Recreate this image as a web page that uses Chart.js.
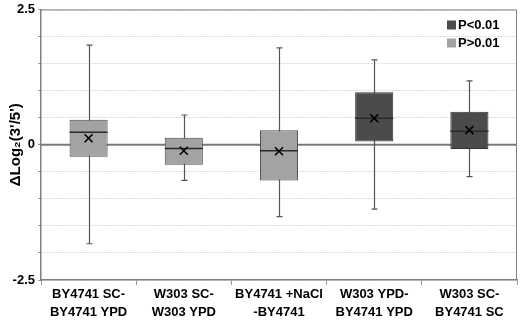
<!DOCTYPE html>
<html>
<head>
<meta charset="utf-8">
<script src="https://cdn.jsdelivr.net/npm/chart.js@4"></script>
<style>
  body { margin: 0; background: #fff; }
  #wrap { width: 520px; height: 323px; position: relative; }
</style>
</head>
<body>
<div id="wrap"><canvas id="chart1"></canvas></div>
<script>
// categories and box plot stats
const labels = [
  ['BY4741 SC-', 'BY4741 YPD'],
  ['W303 SC-', 'W303 YPD'],
  ['BY4741 +NaCl', '-BY4741'],
  ['W303 YPD-', 'BY4741 YPD'],
  ['W303 SC-', 'BY4741 SC']
];
const whiskerHigh = [1.84, 0.55, 1.79, 1.57, 1.18];
const q3 = [0.46, 0.13, 0.27, 0.97, 0.61];
const median = [0.23, -0.07, -0.11, 0.49, 0.25];
const mean = [0.12, -0.11, -0.12, 0.49, 0.27];
const q1 = [-0.22, -0.37, -0.66, 0.06, -0.08];
const whiskerLow = [-1.83, -0.66, -1.33, -1.19, -0.59];
// which boxes are significant (P<0.01)
const significant = [false, false, false, true, true];
const yTickLabels = { '-2.5': '-2.5', '0': '0', '2.5': '2.5' };

const darkFill = '#4b4b4b';
const lightFill = '#a3a3a3';
const fontFamily = '"Liberation Sans", Arial, sans-serif';

const boxes = (sig) => q1.map((v, i) => significant[i] === sig ? [v, q3[i]] : null);

const boxPlugin = {
  id: 'boxExtras',
  beforeDatasetsDraw(chart) {
    const { ctx, chartArea, scales } = chart;
    const x = scales.x, y = scales.y;
    ctx.save();
    // zero line
    ctx.strokeStyle = '#7a7a7a';
    ctx.lineWidth = 2;
    ctx.beginPath();
    ctx.moveTo(chartArea.left, y.getPixelForValue(0));
    ctx.lineTo(chartArea.right, y.getPixelForValue(0));
    ctx.stroke();
    // whiskers
    ctx.strokeStyle = '#555';
    ctx.lineWidth = 1.2;
    for (let i = 0; i < labels.length; i++) {
      const cx = Math.round(x.getPixelForValue(i)) + 0.5;
      const top = y.getPixelForValue(whiskerHigh[i]);
      const bot = y.getPixelForValue(whiskerLow[i]);
      ctx.beginPath();
      ctx.moveTo(cx, top); ctx.lineTo(cx, bot);
      ctx.moveTo(cx - 3, top); ctx.lineTo(cx + 3, top);
      ctx.moveTo(cx - 3, bot); ctx.lineTo(cx + 3, bot);
      ctx.stroke();
    }
    ctx.restore();
  },
  afterDatasetsDraw(chart) {
    const { ctx, chartArea, scales } = chart;
    const x = scales.x, y = scales.y;
    ctx.save();
    for (let i = 0; i < labels.length; i++) {
      const m = chart.getDatasetMeta(significant[i] ? 0 : 1).data[i];
      const half = m.width / 2;
      const cx = x.getPixelForValue(i);
      const my = y.getPixelForValue(median[i]);
      ctx.strokeStyle = '#2a2a2a';
      ctx.lineWidth = 1.5;
      ctx.beginPath();
      ctx.moveTo(cx - half, my); ctx.lineTo(cx + half, my);
      ctx.stroke();
      // mean marker
      const ay = y.getPixelForValue(mean[i]);
      ctx.strokeStyle = '#000';
      ctx.lineWidth = 1.6;
      ctx.beginPath();
      ctx.moveTo(cx - 4, ay - 4); ctx.lineTo(cx + 4, ay + 4);
      ctx.moveTo(cx + 4, ay - 4); ctx.lineTo(cx - 4, ay + 4);
      ctx.stroke();
    }
    // frame top and right
    ctx.strokeStyle = '#808080';
    ctx.lineWidth = 1;
    ctx.beginPath();
    ctx.moveTo(chartArea.left, chartArea.top + 0.5);
    ctx.lineTo(chartArea.right - 0.5, chartArea.top + 0.5);
    ctx.lineTo(chartArea.right - 0.5, chartArea.bottom);
    ctx.stroke();
    // legend
    ctx.font = 'bold 13px ' + fontFamily;
    ctx.textBaseline = 'middle';
    chart.data.datasets.forEach((ds, k) => {
      const ly = 25 + k * 18;
      ctx.fillStyle = ds.backgroundColor;
      ctx.fillRect(447, ly - 4.5, 9, 9);
      ctx.fillStyle = '#000';
      ctx.fillText(ds.label, 458, ly + 0.5);
    });
    ctx.restore();
  }
};

new Chart(document.getElementById('chart1'), {
  type: 'bar',
  data: {
    labels: labels,
    datasets: [
      { label: 'P<0.01', data: boxes(true), backgroundColor: darkFill, borderColor: '#333', borderWidth: 1, borderSkipped: false, grouped: false },
      { label: 'P>0.01', data: boxes(false), backgroundColor: lightFill, borderColor: '#4a4a4a', borderWidth: 1, borderSkipped: false, grouped: false }
    ]
  },
  options: {
    responsive: true,
    maintainAspectRatio: false,
    animation: false,
    categoryPercentage: 0.8,
    barPercentage: 0.5,
    layout: { padding: { top: 0, right: 3, left: 0, bottom: 0 } },
    plugins: {
      legend: { display: false },
      tooltip: { enabled: false }
    },
    scales: {
      x: {
        grid: { offset: true, drawOnChartArea: false, drawTicks: true, tickLength: 5, color: '#999' },
        border: { display: true, color: '#808080', width: 1.5 },
        ticks: {
          color: '#000',
          font: { family: fontFamily, size: 13, weight: 'bold', lineHeight: 1.35 },
          maxRotation: 0,
          autoSkip: false,
          padding: 1
        },
        afterFit(s) { s.height = 43; }
      },
      y: {
        min: -2.5,
        max: 2.5,
        grid: { color: '#b8b8b8', lineWidth: 1, tickLength: 3, tickColor: '#999', tickBorderDash: [] },
        border: { display: true, color: '#808080', width: 1.5, dash: [1, 2] },
        ticks: {
          stepSize: 0.5,
          color: '#000',
          padding: 3,
          font: { family: fontFamily, size: 13, weight: 'bold', lineHeight: 1 },
          callback: (v) => yTickLabels[String(v)] || ''
        },
        title: {
          display: true,
          text: "ΔLog₂(3'/5')",
          color: '#000',
          font: { family: fontFamily, size: 15, weight: 'bold' },
          padding: { top: 7, bottom: 0 }
        },
        afterFit(s) { s.width = 41; }
      }
    }
  },
  plugins: [boxPlugin]
});
</script>
</body>
</html>
